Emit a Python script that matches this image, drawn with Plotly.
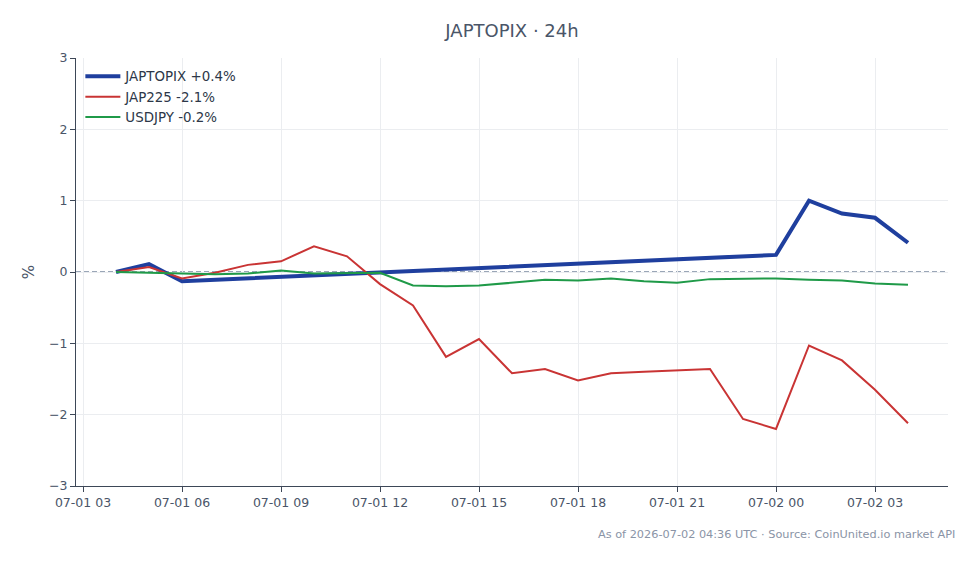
import plotly.graph_objects as go

# ---- data ----
hours = [f"2026-07-01 {h:02d}:00" for h in range(4, 24)] + [f"2026-07-02 {h:02d}:00" for h in range(0, 5)]

topix_times = ["2026-07-01 04:00", "2026-07-01 05:00", "2026-07-01 06:00",
               "2026-07-02 00:00", "2026-07-02 01:00", "2026-07-02 02:00",
               "2026-07-02 03:00", "2026-07-02 04:00"]
topix_vals = [0.0, 0.11, -0.13, 0.24, 1.0, 0.82, 0.76, 0.41]

jap225_vals = [0.0, 0.07, -0.09, -0.01, 0.10, 0.15, 0.36, 0.22, -0.17, -0.47,
               -1.19, -0.94, -1.42, -1.36, -1.52, -1.42, -1.40, -1.38, -1.36, -2.06,
               -2.20, -1.03, -1.24, -1.65, -2.12]

usdjpy_vals = [0.0, -0.01, -0.02, -0.03, -0.02, 0.02, -0.02, -0.01, -0.01, -0.19,
               -0.20, -0.19, -0.15, -0.11, -0.12, -0.09, -0.13, -0.15, -0.10, -0.10,
               -0.09, -0.11, -0.12, -0.16, -0.18]

names = ["JAPTOPIX +0.4%", "JAP225 -2.1%", "USDJPY -0.2%"]
colors = ["#1f3f9e", "#c93434", "#1f9a48"]

title_text = "JAPTOPIX · 24h"
footer_text = "As of 2026-07-02 04:36 UTC · Source: CoinUnited.io market API"

font_color = "#4a5568"

fig = go.Figure()
fig.add_trace(go.Scatter(x=topix_times, y=topix_vals, mode="lines", name=names[0],
                         line=dict(color=colors[0], width=4)))
fig.add_trace(go.Scatter(x=hours, y=jap225_vals, mode="lines", name=names[1],
                         line=dict(color=colors[1], width=2)))
fig.add_trace(go.Scatter(x=hours, y=usdjpy_vals, mode="lines", name=names[2],
                         line=dict(color=colors[2], width=2)))

fig.add_hline(y=0, line=dict(color="#7a89a0", width=1.5, dash="5px,3px"), layer="below")

fig.update_layout(
    width=980, height=564,
    margin=dict(l=76, r=32, t=58, b=78),
    paper_bgcolor="white", plot_bgcolor="white",
    font=dict(family="DejaVu Sans", size=12.5, color=font_color),
    title=dict(text=title_text, xref="paper", x=0.5, xanchor="center", y=0.945, yanchor="middle",
               font=dict(size=18, color=font_color)),
    legend=dict(x=0.005, y=0.993, xanchor="left", yanchor="top", itemwidth=35,
                tracegroupgap=0,
                bgcolor="rgba(255,255,255,0)", font=dict(size=13.4, color="#2d3748")),
    showlegend=True,
    annotations=[dict(text=footer_text, xref="paper", yref="paper", x=1.01, y=-0.093,
                      xanchor="right", yanchor="top", showarrow=False,
                      font=dict(size=11.3, color="#8a94a6"))],
)

fig.update_xaxes(
    type="date",
    range=["2026-07-01 02:47:16", "2026-07-02 05:12:44"],
    tick0="2026-07-01 03:00", dtick=3 * 3600 * 1000, tickformat="%m-%d %H",
    showgrid=True, gridcolor="#ebedf0", gridwidth=1,
    showline=True, linecolor="#3d4757", linewidth=1,
    ticks="outside", ticklen=5, tickcolor="#3d4757",
    zeroline=False,
)
fig.update_yaxes(
    range=[-3, 3], dtick=1,
    title=dict(text="%", standoff=10),
    showgrid=True, gridcolor="#ebedf0", gridwidth=1,
    showline=True, linecolor="#3d4757", linewidth=1,
    ticks="outside", ticklen=5, tickcolor="#3d4757",
    zeroline=False,
)

fig.write_html("out.html")
